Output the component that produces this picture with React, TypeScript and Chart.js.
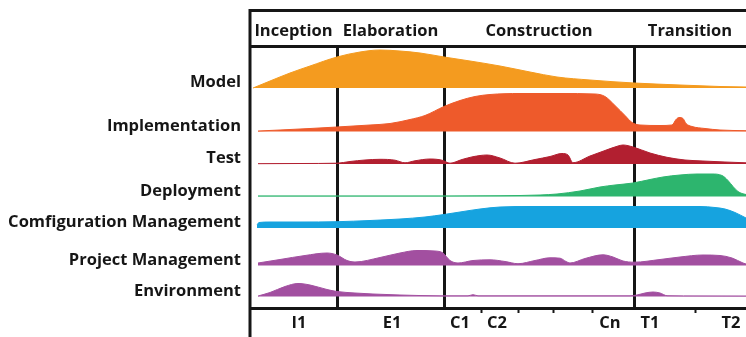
import { useEffect, useRef } from 'react';
import { Chart, registerables } from 'chart.js';

Chart.register(...registerables);

// Rows (disciplines), top to bottom
const disciplines = [
  'Model',
  'Implementation',
  'Test',
  'Deployment',
  'Comfiguration Management',
  'Project Management',
  'Environment',
];
// baseline of every row on the value axis (0..262)
const rowBases = [220, 176.5, 144, 111.5, 80, 42.5, 11.5];

// Phases along the time axis (0..496)
const phases = ['Inception', 'Elaboration', 'Construction', 'Transition'];
const phaseBounds = [0, 87, 194, 384, 496];

// Iterations
const iterationLabels = ['I1', 'E1', 'C1', 'C2', 'Cn', 'T1', 'T2'];
const iterationPos = [49, 142, 210, 247, 360, 400, 481];
const minorTicks = [231, 268, 303, 342, 445];

// Effort humps: [time, effort]
const model: [number, number][] = [
  [3, 0], [20, 7], [40, 15], [60, 22], [87, 31], [110, 36], [130, 38], [150, 37],
  [170, 35], [194, 31], [220, 27], [250, 22], [280, 16], [307, 11], [340, 8],
  [384, 5], [430, 3], [470, 1.5], [496, 1],
];
const implementation: [number, number][] = [
  [8, 0.5], [30, 1.5], [60, 3], [87, 4.5], [120, 6.5], [140, 8], [160, 12], [175, 16],
  [194, 25], [210, 31], [225, 35], [240, 37], [270, 38], [310, 38], [345, 37.5],
  [355, 35], [365, 26], [375, 16], [382, 9], [390, 6.5], [410, 6], [422, 6.5],
  [426, 12], [429, 14], [433, 13], [436, 8], [442, 5], [455, 3], [470, 1.5], [496, 0.8],
];
const test: [number, number][] = [
  [8, 0.3], [50, 0.5], [87, 0.8], [100, 2.5], [115, 4], [130, 4.7], [145, 3.8],
  [155, 1.2], [165, 3.2], [180, 5], [192, 3.8], [200, 0.8], [212, 4.5], [223, 7.3],
  [237, 9], [250, 6], [265, 0.8], [285, 4.5], [300, 7.5], [312, 10.5], [318, 9],
  [323, 1.3], [340, 8], [355, 13.5], [368, 18], [373, 19], [383, 17], [400, 11],
  [417, 6.7], [435, 4], [453, 3], [475, 2], [496, 1.2],
];
const deployment: [number, number][] = [
  [8, 0.6], [150, 0.6], [250, 0.8], [290, 1.5], [307, 2.5], [330, 5.5], [350, 9.5],
  [365, 11.5], [383, 13.5], [400, 17], [413, 19.5], [430, 21.5], [447, 22.5],
  [462, 22.5], [472, 21], [478, 16], [483, 10], [488, 5], [492, 3], [496, 2],
];
const configuration: [number, number][] = [
  [7, 3], [9, 5.5], [20, 6], [50, 6], [87, 6.3], [120, 7.5], [150, 9], [175, 11],
  [194, 13.5], [210, 16], [230, 19], [250, 21], [280, 21.5], [350, 21.5], [450, 21.5],
  [465, 20.5], [475, 19], [485, 15.5], [496, 10],
];
const projectManagement: [number, number][] = [
  [8, 2.5], [30, 6], [55, 10], [77, 12.5], [87, 10.5], [97, 5], [105, 3.5], [130, 8],
  [150, 12.5], [167, 15], [185, 14.5], [193, 12.5], [200, 5], [208, 2.5], [223, 5],
  [240, 5.7], [255, 4], [268, 1.8], [285, 5], [300, 7.7], [310, 7.3], [316, 4],
  [320, 2.5], [335, 7], [353, 10.7], [363, 8.5], [373, 4.5], [384, 3.3], [410, 6],
  [430, 8.5], [453, 10.5], [470, 10], [482, 7.5], [493, 2.5], [496, 1.5],
];
const environment: [number, number][] = [
  [8, 0.5], [20, 4], [35, 10], [48, 13], [60, 11.5], [77, 7], [87, 5], [105, 3.5],
  [123, 2.5], [150, 1.5], [190, 0.7], [218, 0.7], [223, 1.8], [228, 0.7], [380, 0.7],
  [387, 1.5], [395, 3.5], [403, 4.5], [410, 3.5], [417, 0.8], [450, 0.6], [496, 0.5],
];

const colors = ['#F49B1F', '#EE5A2B', '#B21F30', '#2DB56E', '#16A3DF', '#A24FA0', '#A24FA0'];

export default function App() {
  const ref = useRef<HTMLCanvasElement | null>(null);

  useEffect(() => {
    document.body.style.margin = '0';
    const canvas = ref.current;
    if (!canvas) return;

    const series = [model, implementation, test, deployment, configuration, projectManagement, environment];
    const datasets = series.map((pts, i) => ({
      label: disciplines[i],
      data: pts.map(([x, h]) => ({ x, y: rowBases[i] + h })),
      fill: { value: rowBases[i] },
      backgroundColor: colors[i],
      borderColor: colors[i],
      borderWidth: 1,
      pointRadius: 0,
      cubicInterpolationMode: 'monotone' as const,
    }));

    const innerBounds = phaseBounds.slice(1, -1);
    const phaseCenters = phases.map((_, i) => (phaseBounds[i] + phaseBounds[i + 1]) / 2);
    const xTicks = [...iterationPos, ...minorTicks, ...innerBounds].sort((a, b) => a - b);
    const yTicks = rowBases.map((b) => b + 5.5);

    const font = { family: "'Open Sans', sans-serif", size: 16.5, weight: 'bold' as const };
    const ink = '#161616';

    const frame = {
      id: 'frame',
      afterDraw(chart: any) {
        const { ctx, chartArea } = chart;
        const top = chart.scales.xp.top;
        ctx.save();
        ctx.strokeStyle = ink;
        ctx.lineWidth = 3;
        ctx.beginPath();
        ctx.moveTo(chartArea.left, chart.height);
        ctx.lineTo(chartArea.left, top + 1.5);
        ctx.moveTo(chartArea.left - 1.5, top + 1.5);
        ctx.lineTo(chart.width, top + 1.5);
        ctx.stroke();
        ctx.restore();
      },
    };

    const chart = new Chart(canvas, {
      type: 'line',
      data: { datasets },
      options: {
        responsive: false,
        animation: false,
        devicePixelRatio: 1,
        layout: { padding: { top: 9, left: 0, right: 0, bottom: 0 } },
        plugins: { legend: { display: false }, tooltip: { enabled: false } },
        scales: {
          x: {
            type: 'linear',
            position: 'bottom',
            min: 0,
            max: 496,
            z: 1,
            afterBuildTicks: (s: any) => {
              s.ticks = xTicks.map((v) => ({ value: v }));
            },
            afterFit: (s: any) => {
              s.height = 29;
            },
            ticks: {
              autoSkip: false,
              maxRotation: 0,
              padding: 0,
              font,
              color: ink,
              callback: (v: any) => {
                const k = iterationPos.indexOf(Number(v));
                return k >= 0 ? iterationLabels[k] : '';
              },
            },
            grid: {
              drawOnChartArea: true,
              drawTicks: true,
              tickLength: 5,
              color: (c: any) => (innerBounds.includes(c.tick?.value) ? ink : 'rgba(0,0,0,0)'),
              lineWidth: 3,
              tickColor: (c: any) => (minorTicks.includes(c.tick?.value) ? ink : 'rgba(0,0,0,0)'),
              tickWidth: 2,
            },
            border: { display: true, color: ink, width: 3 },
          },
          xp: {
            type: 'linear',
            position: 'top',
            min: 0,
            max: 496,
            afterBuildTicks: (s: any) => {
              s.ticks = phaseCenters.map((v) => ({ value: v }));
            },
            afterFit: (s: any) => {
              s.height = 37;
            },
            ticks: {
              autoSkip: false,
              maxRotation: 0,
              padding: 5,
              font,
              color: ink,
              callback: (v: any) => {
                const k = phaseCenters.indexOf(Number(v));
                return k >= 0 ? phases[k] : '';
              },
            },
            grid: { display: false, drawTicks: false },
            border: { display: true, color: ink, width: 3 },
          },
          y: {
            type: 'linear',
            min: 0,
            max: 262,
            afterBuildTicks: (s: any) => {
              s.ticks = yTicks.map((v) => ({ value: v }));
            },
            afterFit: (s: any) => {
              s.width = 250;
            },
            ticks: {
              autoSkip: false,
              padding: 9,
              font,
              color: ink,
              callback: (v: any) => {
                const k = yTicks.indexOf(Number(v));
                return k >= 0 ? disciplines[k] : '';
              },
            },
            grid: { display: false, drawTicks: false },
            border: { display: false },
          },
        },
      },
      plugins: [frame],
    } as any);

    return () => chart.destroy();
  }, []);

  return (
    <div style={{ width: 746, height: 337 }}>
      <canvas ref={ref} width={746} height={337} style={{ display: 'block' }} />
    </div>
  );
}
